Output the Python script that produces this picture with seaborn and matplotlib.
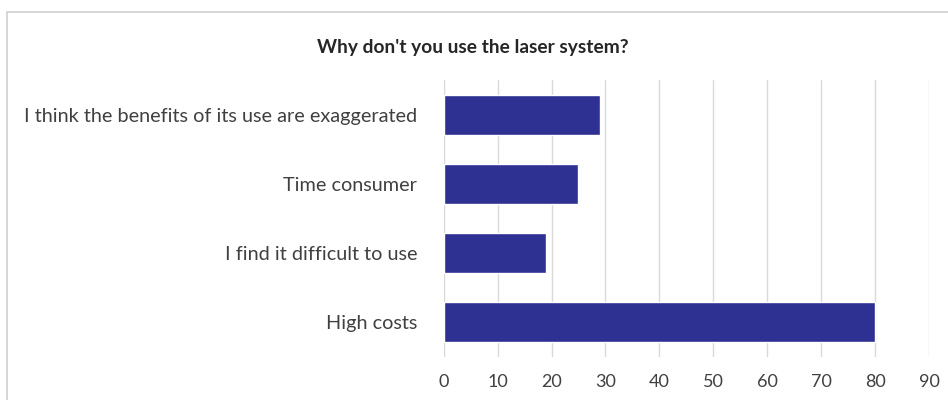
import matplotlib
matplotlib.use("Agg")
import matplotlib.pyplot as plt
import seaborn as sns
import pandas as pd
from matplotlib.patches import Rectangle

reasons = [
    "I think the benefits of its use are exaggerated",
    "Time consumer",
    "I find it difficult to use",
    "High costs",
]
counts = [29, 25, 19, 80]
x_ticks = [0, 10, 20, 30, 40, 50, 60, 70, 80, 90]

df = pd.DataFrame({"reason": reasons, "count": counts})

sns.set_theme(style="white")
plt.rcParams["font.family"] = ["Lato", "DejaVu Sans"]

fig = plt.figure(figsize=(9.48, 4.0), dpi=100)
ax = fig.add_axes([0.468, 0.1075, 0.512, 0.6925])

sns.barplot(data=df, x="count", y="reason", orient="h", color="#2E3192",
            saturation=1, width=0.58, ax=ax, zorder=3)

ax.set_xlim(0, 90)
ax.set_xticks(x_ticks)
ax.set_xticklabels([str(t) for t in x_ticks], fontsize=13, color="#404040")
ax.tick_params(axis="y", labelsize=14.3, labelcolor="#404040", length=0, pad=19)
ax.tick_params(axis="x", length=0, pad=12)
ax.set_xlabel("")
ax.set_ylabel("")
ax.xaxis.grid(True, color="#D9D9D9", linewidth=1, zorder=0)
ax.yaxis.grid(False)
for s in ax.spines.values():
    s.set_visible(False)

fig.text(0.499, 0.882, "Why don't you use the laser system?", ha="center", va="center",
         fontsize=13.8, fontweight="bold", color="#262626")

# outer chart frame
fig.patches.append(Rectangle((7 / 948, -0.05), 1.0, 1 - 12 / 400 + 0.05,
                             transform=fig.transFigure, fill=False,
                             edgecolor="#CFCFCF", linewidth=1.2))

fig.savefig("out.png", dpi=100)
